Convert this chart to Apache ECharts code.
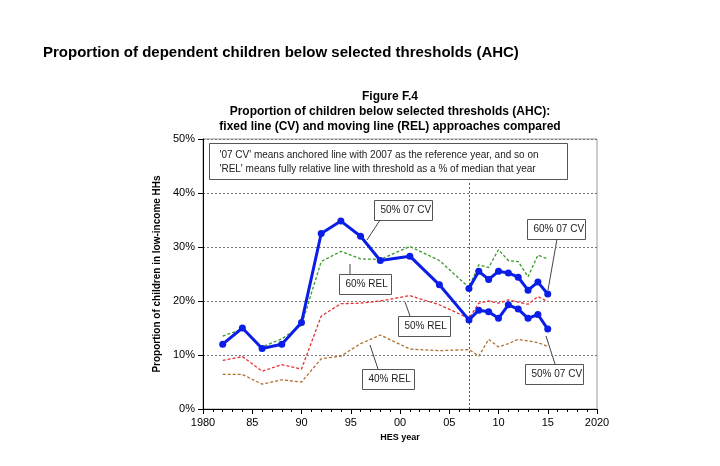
<!DOCTYPE html><html><head><meta charset="utf-8"><script src="https://cdn.jsdelivr.net/npm/echarts@6/dist/echarts.min.js"></script></head><body style="margin:0;background:#fff"><div id="c" style="width:720px;height:466px"></div><script>
const yearsA=[1982,1984,1986,1988,1990,1992,1994,1996,1998,2001,2004,2007,2008,2009,2010,2011,2012,2013,2014,2015];
const cv50=[12,15,11.2,12,16,32.5,34.8,32,27.5,28.3,23,16.5,18.3,18,16.8,19.3,18.5,16.8,17.5,14.8];
const yearsB=[2007,2008,2009,2010,2011,2012,2013,2014,2015];
const cv60=[22.3,25.5,24,25.5,25.2,24.4,22,23.5,21.3];
const rel60=[13.5,14.8,11.5,13,15.5,27.3,29.2,27.8,27.7,30.1,27.5,22.5,26.7,26.2,29.5,27.5,27.3,24.5,28.5,27.8];
const rel50=[9,9.7,7,8.2,7.4,17.2,19.5,19.6,20,21,19.3,16.8,19.6,20,19.6,20.2,19.8,19.4,20.8,19.9];
const rel40=[6.4,6.4,4.6,5.4,5,9.3,9.8,12.1,13.7,11.1,10.8,11,9.8,12.9,11.5,12.1,12.9,12.6,12.3,11.6];
const z=(xs,ys)=>xs.map((x,i)=>[x,ys[i]]);
const F='Liberation Sans, Arial, sans-serif';
const dash=(n,d,c)=>({name:n,type:'line',data:z(yearsA,d),symbol:'none',lineStyle:{color:c,width:1.3,type:[3,2]},z:2});
const box=(x,y,t,w)=>({type:'group',left:x,top:y,children:[{type:'rect',shape:{width:w,height:20},style:{fill:'#fff',stroke:'#555',lineWidth:1}},{type:'text',left:6,top:5,style:{text:t,font:'10px '+F,fill:'#222'}}]});
const ln=(x1,y1,x2,y2)=>({type:'line',shape:{x1,y1,x2,y2},style:{stroke:'#444',lineWidth:1}});
const c=echarts.init(document.getElementById('c'));
c.setOption({animation:false,
title:[{text:'Proportion of dependent children below selected thresholds (AHC)',left:38,top:40,textStyle:{fontFamily:F,fontSize:15,fontWeight:'bold',color:'#000'}},
{text:'Figure F.4\nProportion of children below selected thresholds (AHC):\nfixed line (CV) and moving line (REL) approaches compared',left:385,top:84,textAlign:'center',textStyle:{fontFamily:F,fontSize:12,fontWeight:'bold',color:'#000',lineHeight:15}}],
grid:{left:203,right:123,top:139,bottom:57,show:true,borderColor:'#999',borderWidth:1},
xAxis:{type:'value',min:1980,max:2020,interval:5,name:'HES year',nameLocation:'middle',nameGap:22,nameTextStyle:{fontFamily:F,fontSize:9,fontWeight:'bold',color:'#000'},
axisLabel:{fontFamily:F,fontSize:11,color:'#000',formatter:v=>(v==1980||v==2020)?String(v):String(v%100).padStart(2,'0')},
axisLine:{lineStyle:{color:'#000'}},axisTick:{lineStyle:{color:'#000'}},minorTick:{show:true,splitNumber:5,lineStyle:{color:'#000'}},splitLine:{show:false}},
yAxis:{type:'value',min:0,max:50,interval:10,name:'Proportion of children in low-income HHs',nameLocation:'middle',nameGap:38,nameTextStyle:{fontFamily:F,fontSize:10,fontWeight:'bold',color:'#000'},
axisLabel:{fontFamily:F,fontSize:11,color:'#000',formatter:'{value}%'},axisLine:{show:true,lineStyle:{color:'#000'}},axisTick:{show:true,lineStyle:{color:'#000'}},splitLine:{lineStyle:{color:'#777',type:[2,2]}}},
series:[dash('60% REL',rel60,'#3a9a2a'),dash('50% REL',rel50,'#e83030'),dash('40% REL',rel40,'#b07030'),
{name:'50% 07 CV',type:'line',data:z(yearsA,cv50),symbol:'circle',symbolSize:7,lineStyle:{color:'#0a1ee8',width:3},itemStyle:{color:'#0a1ee8'},z:5,
markLine:{silent:true,symbol:'none',label:{show:false},lineStyle:{color:'#555',type:[2,2],width:1},data:[[{coord:[2007,0]},{coord:[2007,42]}]]}},
{name:'60% 07 CV',type:'line',data:z(yearsB,cv60),symbol:'circle',symbolSize:7,lineStyle:{color:'#0a1ee8',width:3},itemStyle:{color:'#0a1ee8'},z:5}],
graphic:[
{type:'group',left:209,top:143,children:[{type:'rect',shape:{width:358,height:36},style:{fill:'#fff',stroke:'#555',lineWidth:1}},{type:'text',left:10,top:5,style:{text:"'07 CV' means anchored line with 2007 as the reference year, and so on\n'REL' means fully relative line with threshold as a % of median that year",font:'10px '+F,fill:'#222',lineHeight:14}}]},
box(374,200,'50% 07 CV',58),ln(380,220,367,240),
box(339,274,'60% REL',52),ln(350,274,350,264),
box(398,316,'50% REL',52),ln(410,316,405,302),
box(362,369,'40% REL',52),ln(378,369,370,345),
box(527,219,'60% 07 CV',58),ln(557,239,548,290),
box(525,364,'50% 07 CV',58),ln(555,364,546,336)
]});
</script></body></html>
